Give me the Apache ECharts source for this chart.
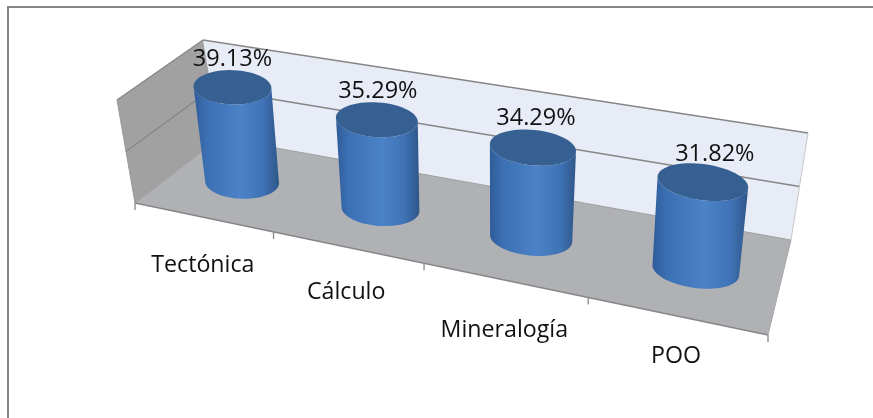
<!DOCTYPE html>
<html><head><meta charset="utf-8">
<style>html,body{margin:0;padding:0;background:#fff}#c{width:873px;height:418px}</style>
<script src="https://cdn.jsdelivr.net/npm/echarts@6/dist/echarts.min.js"></script>
</head><body><div id="c"></div>
<script>
const categories = ['Tectónica', 'Cálculo', 'Mineralogía', 'POO'];
const values = [39.13, 35.29, 34.29, 31.82];
const valueTicks = [0, 20, 40];

// Frame of the 3D box in screen space (layout only)
const FL = [135, 203], FR = [768, 335], BL = [220, 138], BR = [791, 240];
const TL = [203, 40], TR = [808, 133], FTL = [117, 100];
const LEAN_L = [-25, -190], LEAN_R = [25, -227];
const K = 1.19;
const persp = u => u / (u + K * (1 - u));
const lerp = (a, b, t) => [a[0] + (b[0] - a[0]) * t, a[1] + (b[1] - a[1]) * t];
const LINE = '#868686';
const FONT = '"Open Sans", sans-serif';

const labelShift = [[0, 48, 0, -28], [-1, 45, 1, -28], [0, 50, 3, -29], [0, 41, 12, -28]];

function line(a, b, color, w) {
  return {type: 'line', shape: {x1: a[0], y1: a[1], x2: b[0], y2: b[1]}, style: {stroke: color, lineWidth: w || 1.3}, silent: true};
}
function poly(pts, fill) {
  return {type: 'polygon', shape: {points: pts}, style: {fill: fill}, silent: true};
}
function renderFrame(params, api) {
  const cs = params.coordSys;
  const kids = [];
  kids.push(poly([TL, TR, BR, BL], '#e8ecf6'));
  kids.push(poly([FL, FR, BR, BL], '#b0b1b4'));
  kids.push(poly([FTL, TL, BL, FL], '#a1a1a2'));
  valueTicks.forEach(t => {
    const v = (cs.y + cs.height - api.coord([0, t])[1]) / cs.height;
    const a = lerp(BL, TL, v), b = lerp(BR, TR, v), c = lerp(FL, FTL, v);
    if (t > 0) { kids.push(line(a, b, LINE)); kids.push(line(c, a, LINE)); }
    else { kids.push(line(a, b, '#a0a0a0', 1)); kids.push(line(c, a, '#a0a0a0', 1)); }
  });
  kids.push(line(FTL, FL, '#9a9a9a', 1));
  kids.push(line(BR, TR, '#c8c8c8', 1));
  kids.push(line(FL, FR, LINE));
  kids.push(line(FR, BR, '#a8a8a8', 1));
  for (let i = 0; i <= categories.length; i++) {
    const p = lerp(FL, FR, persp(i / categories.length));
    kids.push(line(p, [p[0], p[1] + 7], LINE));
  }
  return {type: 'group', children: kids};
}
function ellipsePts(c, rx, ry, rot, from, to, n) {
  const pts = [], cr = Math.cos(rot), sr = Math.sin(rot);
  for (let i = 0; i <= n; i++) {
    const a = from + (to - from) * i / n;
    const x = rx * Math.cos(a), y = ry * Math.sin(a);
    pts.push([c[0] + x * cr - y * sr, c[1] + x * sr + y * cr]);
  }
  return pts;
}
function renderCyl(params, api) {
  const cs = params.coordSys;
  const i = api.value(0), val = api.value(1);
  const pBase = api.coord([i, 0]), pTop = api.coord([i, val]);
  const u = (pBase[0] - cs.x) / cs.width;
  const v = (pBase[1] - pTop[1]) / cs.height;
  const f = persp(u);
  const front = lerp(FL, FR, f), back = lerp(BL, BR, f);
  const mid = lerp(front, back, 0.5);
  const base = [mid[0] + 4.5 - 5 * (1 - f), mid[1] - (1 - f)];
  const up = lerp(LEAN_L, LEAN_R, f);
  const top = [base[0] + up[0] / 2 * v, base[1] + up[1] / 2 * v];
  const rxT = 38 + 9 * f, rxB = 36 + 9 * f;
  const ryT = 17 + 1.2 * f, ryB = 16.5 + 1.2 * f;
  const rot = (1 + 8 * f) * Math.PI / 180;
  const arcBase = ellipsePts(base, rxB, ryB, rot, 0, Math.PI, 40);
  const arcTop = ellipsePts(top, rxT, ryT, rot, Math.PI, 0, 40);
  const bodyFill = new echarts.graphic.LinearGradient(0, 0, 1, 0, [
    {offset: 0, color: '#2f5c98'}, {offset: 0.15, color: '#3c70b4'},
    {offset: 0.55, color: '#4c82c8'}, {offset: 0.82, color: '#3f72b6'},
    {offset: 1, color: '#2f5688'}]);
  const s = labelShift[i];
  return {type: 'group', children: [
    poly(arcBase.concat(arcTop), bodyFill),
    poly(ellipsePts(top, rxT, ryT, rot, 0, 2 * Math.PI, 60), '#365f92'),
    {type: 'text', style: {text: values[i].toFixed(2) + '%', x: top[0] + s[2], y: top[1] + s[3], align: 'center', verticalAlign: 'middle', font: '23.5px ' + FONT, fill: '#111'}, silent: true},
    {type: 'text', style: {text: categories[i], x: front[0] + s[0], y: front[1] + s[1], align: 'center', verticalAlign: 'middle', font: '23.2px ' + FONT, fill: '#111'}, silent: true}
  ]};
}
const chart = echarts.init(document.getElementById('c'), null, {renderer: 'canvas'});
chart.setOption({
  animation: false,
  backgroundColor: '#fff',
  grid: {left: 0, right: 0, top: 0, bottom: 0},
  xAxis: {type: 'category', data: categories, show: false},
  yAxis: {type: 'value', min: 0, max: 40, interval: 20, show: false},
  graphic: [
    {type: 'polyline', shape: {points: [[8, 418], [8, 7], [873, 7]]}, style: {fill: 'none', stroke: '#868686', lineWidth: 2}, silent: true}
  ],
  series: [
    {type: 'custom', renderItem: renderFrame, data: [[0, 0]], z: 1, silent: true, clip: false},
    {type: 'custom', renderItem: renderCyl, data: values.map((v, i) => [i, v]), z: 2, silent: true, clip: false}
  ]
});
</script></body></html>
